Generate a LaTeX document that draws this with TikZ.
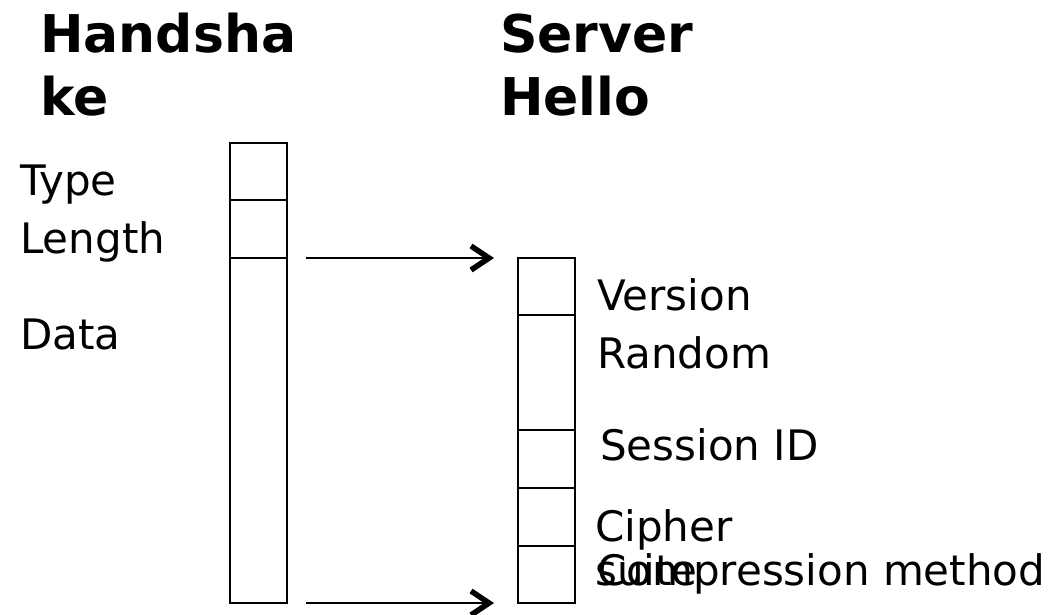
\documentclass[tikz,border=0pt]{standalone}
\usepackage{fontspec}
\setmainfont{DejaVu Sans}
\usetikzlibrary{arrows.meta}
\begin{document}
\begin{tikzpicture}[x=1pt,y=-1pt,
  field/.style={draw, line width=2pt, rectangle, inner sep=0pt, minimum width=57pt},
  lbl/.style={anchor=base west, inner sep=0pt, font=\fontsize{42}{50}\selectfont},
  ttl/.style={anchor=base west, inner sep=0pt, font=\fontsize{52}{62}\selectfont\bfseries},
  link/.style={line width=1.8pt, -{Straight Barb[length=18pt,width=24pt,line width=5.5pt]}}]
\useasboundingbox (0,0) rectangle (1052,614);

% titles
\node[ttl] (h1) at (40,52) {Handsha};
\node[ttl] (h2) at (40,115) {ke};
\node[ttl] (s1) at (500,52) {Server};
\node[ttl] (s2) at (500,115) {Hello};

% handshake record fields
\node[field, minimum height=57pt]  (type)   at (258.5,171.5) {};
\node[field, minimum height=58pt]  (length) at (258.5,229) {};
\node[field, minimum height=345pt] (data)   at (258.5,430.5) {};

% server hello fields
\node[field, minimum height=57pt]  (version) at (546,286.5) {};
\node[field, minimum height=115pt] (random)  at (546,372.5) {};
\node[field, minimum height=58pt]  (session) at (546,459) {};
\node[field, minimum height=58pt]  (cipher)  at (546,517) {};
\node[field, minimum height=57pt]  (comp)    at (546,574.5) {};

% field labels
\node[lbl] (ltype)   at (20,195) {Type};
\node[lbl] (llength) at (20,253) {Length};
\node[lbl] (ldata)   at (20,349) {Data};
\node[lbl] (lver)    at (597,310) {Version};
\node[lbl] (lrand)   at (597,368) {Random};
\node[lbl] (lsess)   at (600,460) {Session ID};
\node[lbl] (lciph1)  at (595,541) {Cipher};
\node[lbl] (lciph2)  at (595,585) {suite};
\node[lbl] (lcomp)   at (597,585) {Compression method};

% arrows from the data span to the server hello
\coordinate (a1s) at (306,258);
\coordinate (a1e) at (494,258);
\coordinate (a2s) at (306,603);
\coordinate (a2e) at (494,603);
\draw[link] (a1s) -- (a1e);
\draw[link] (a2s) -- (a2e);
\end{tikzpicture}
\end{document}
